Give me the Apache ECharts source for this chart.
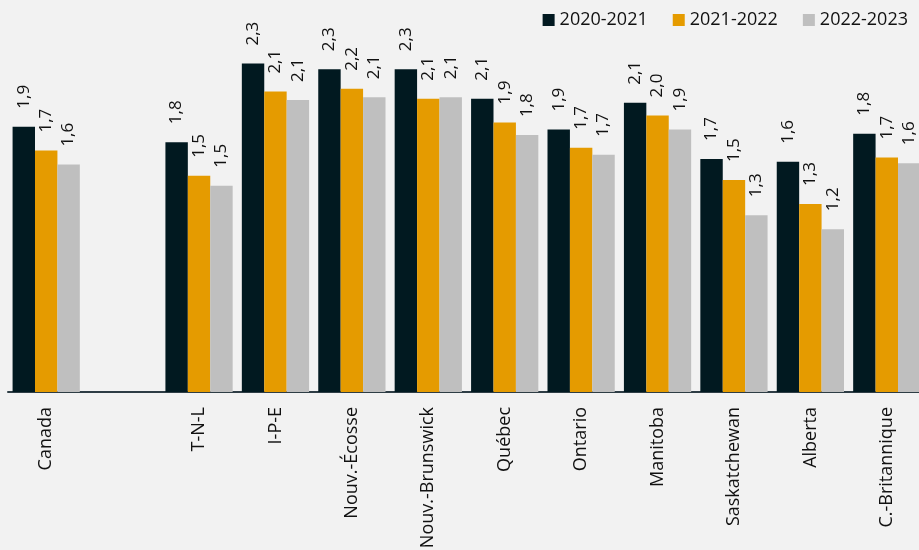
<!DOCTYPE html>
<html>
<head>
<meta charset="utf-8">
<script src="https://cdn.jsdelivr.net/npm/echarts@6/dist/echarts.min.js"></script>
<style>
html,body{margin:0;padding:0;background:#f2f2f2;}
#chart{width:919px;height:550px;}
</style>
</head>
<body>
<div id="chart"></div>
<script>
const categories = ['Canada', '', 'T-N-L', 'I-P-E', 'Nouv.-Écosse', 'Nouv.-Brunswick', 'Québec', 'Ontario', 'Manitoba', 'Saskatchewan', 'Alberta', 'C.-Britannique'];
const seriesNames = ['2020-2021', '2021-2022', '2022-2023'];
const s2020 = [1.89, null, 1.78, 2.34, 2.30, 2.30, 2.09, 1.87, 2.06, 1.66, 1.64, 1.84];
const s2021 = [1.72, null, 1.54, 2.14, 2.16, 2.09, 1.92, 1.74, 1.97, 1.51, 1.34, 1.67];
const s2022 = [1.62, null, 1.47, 2.08, 2.10, 2.10, 1.83, 1.69, 1.87, 1.26, 1.16, 1.63];
const colors = ['#011920', '#e59b00', '#bfbfbf'];

const font = '"Open Sans", "Noto Sans", sans-serif';
const chart = echarts.init(document.getElementById('chart'), null, {renderer: 'canvas'});
const mk = (name, data, color) => ({
  name: name,
  type: 'bar',
  data: data,
  barGap: 0,
  barCategoryGap: '12%',
  itemStyle: {color: color},
  label: {
    show: true,
    position: 'top',
    rotate: 90,
    align: 'left',
    verticalAlign: 'middle',
    distance: 18,
    fontFamily: font,
    fontSize: 17,
    color: '#111',
    formatter: p => p.value == null ? '' : p.value.toFixed(1).replace('.', ',')
  }
});
chart.setOption({
  backgroundColor: '#f2f2f2',
  animation: false,
  legend: {
    top: 6,
    right: 6,
    itemWidth: 12,
    itemHeight: 12,
    itemGap: 25,
    icon: 'rect',
    textStyle: {fontFamily: font, fontSize: 18, color: '#111'},
    data: seriesNames
  },
  grid: {left: 8, width: 917, top: 13, bottom: 158, containLabel: false, outerBoundsMode: 'none'},
  xAxis: {
    type: 'category',
    data: categories,
    axisLine: {lineStyle: {color: '#2e3d45', width: 2}},
    axisTick: {show: false},
    axisLabel: {rotate: 90, margin: 15, fontFamily: font, fontSize: 18, color: '#111', interval: 0}
  },
  yAxis: {
    type: 'value',
    min: 0,
    max: 2.7,
    show: false,
    splitLine: {show: false}
  },
  series: [
    mk(seriesNames[0], s2020, colors[0]),
    mk(seriesNames[1], s2021, colors[1]),
    mk(seriesNames[2], s2022, colors[2])
  ]
});
</script>
</body>
</html>
